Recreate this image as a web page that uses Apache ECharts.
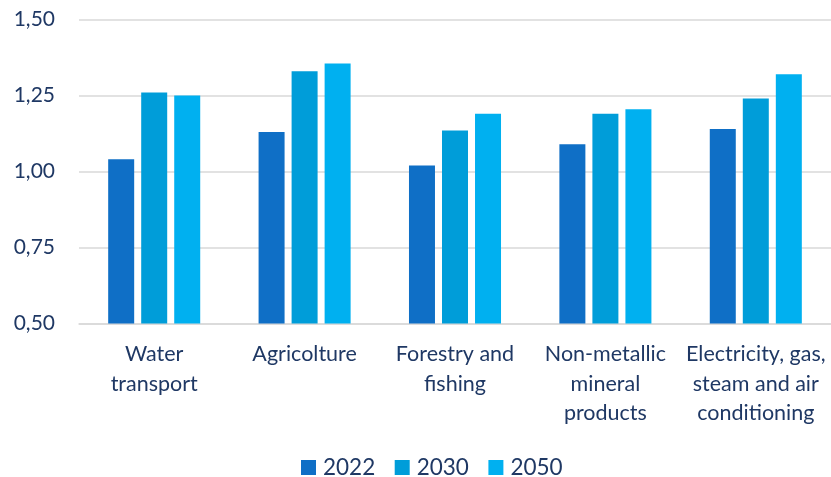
<!DOCTYPE html>
<html>
<head>
<meta charset="utf-8">
<style>html,body{margin:0;padding:0;background:#fff;}#c{width:831px;height:477px;}</style>
<script src="https://cdn.jsdelivr.net/npm/echarts@6/dist/echarts.min.js"></script>
</head>
<body>
<div id="c"></div>
<script>
var categories = ["Water\ntransport", "Agricolture", "Forestry and\nfishing", "Non-metallic\nmineral\nproducts", "Electricity, gas,\nsteam and air\nconditioning"];
var seriesNames = ["2022", "2030", "2050"];
var values2022 = [1.04, 1.13, 1.02, 1.09, 1.14];
var values2030 = [1.26, 1.33, 1.135, 1.19, 1.24];
var values2050 = [1.25, 1.355, 1.19, 1.205, 1.32];
var colors = ["#0F6FC6", "#009DD9", "#00B0F0"];
var textColor = "#1F3864";
var font = "Lato";

var chart = echarts.init(document.getElementById('c'), null, {renderer: 'canvas'});
var allValues = [values2022, values2030, values2050];
chart.setOption({
  animation: false,
  color: colors,
  grid: {left: 79, right: 0, top: 19.5, height: 304, containLabel: false},
  legend: {
    data: seriesNames,
    left: 301,
    top: 456,
    padding: 0,
    itemWidth: 15,
    itemHeight: 15,
    itemGap: 19.5,
    icon: 'rect',
    textStyle: {color: textColor, fontSize: 22.5, fontFamily: font, padding: [0, 0, 0, 2]}
  },
  xAxis: {
    type: 'category',
    data: categories,
    axisLine: {show: true, lineStyle: {color: '#D9D9D9', width: 1.5}},
    axisTick: {show: false},
    axisLabel: {color: textColor, fontSize: 21.5, fontFamily: font, lineHeight: 29.5, margin: 16, interval: 0, verticalAlign: 'top'}
  },
  yAxis: {
    type: 'value',
    min: 0.5,
    max: 1.5,
    interval: 0.25,
    axisLine: {show: false},
    axisTick: {show: false},
    splitLine: {lineStyle: {color: '#D9D9D9', width: 1.5}},
    axisLabel: {
      color: textColor, fontSize: 21, fontFamily: font, margin: 24,
      formatter: function (v) { return v.toFixed(2).replace('.', ','); }
    }
  },
  series: seriesNames.map(function (n, i) {
    return {
      name: n,
      type: 'bar',
      data: allValues[i],
      barWidth: 26,
      barGap: '27%',
      itemStyle: {color: colors[i]}
    };
  })
});
</script>
</body>
</html>
